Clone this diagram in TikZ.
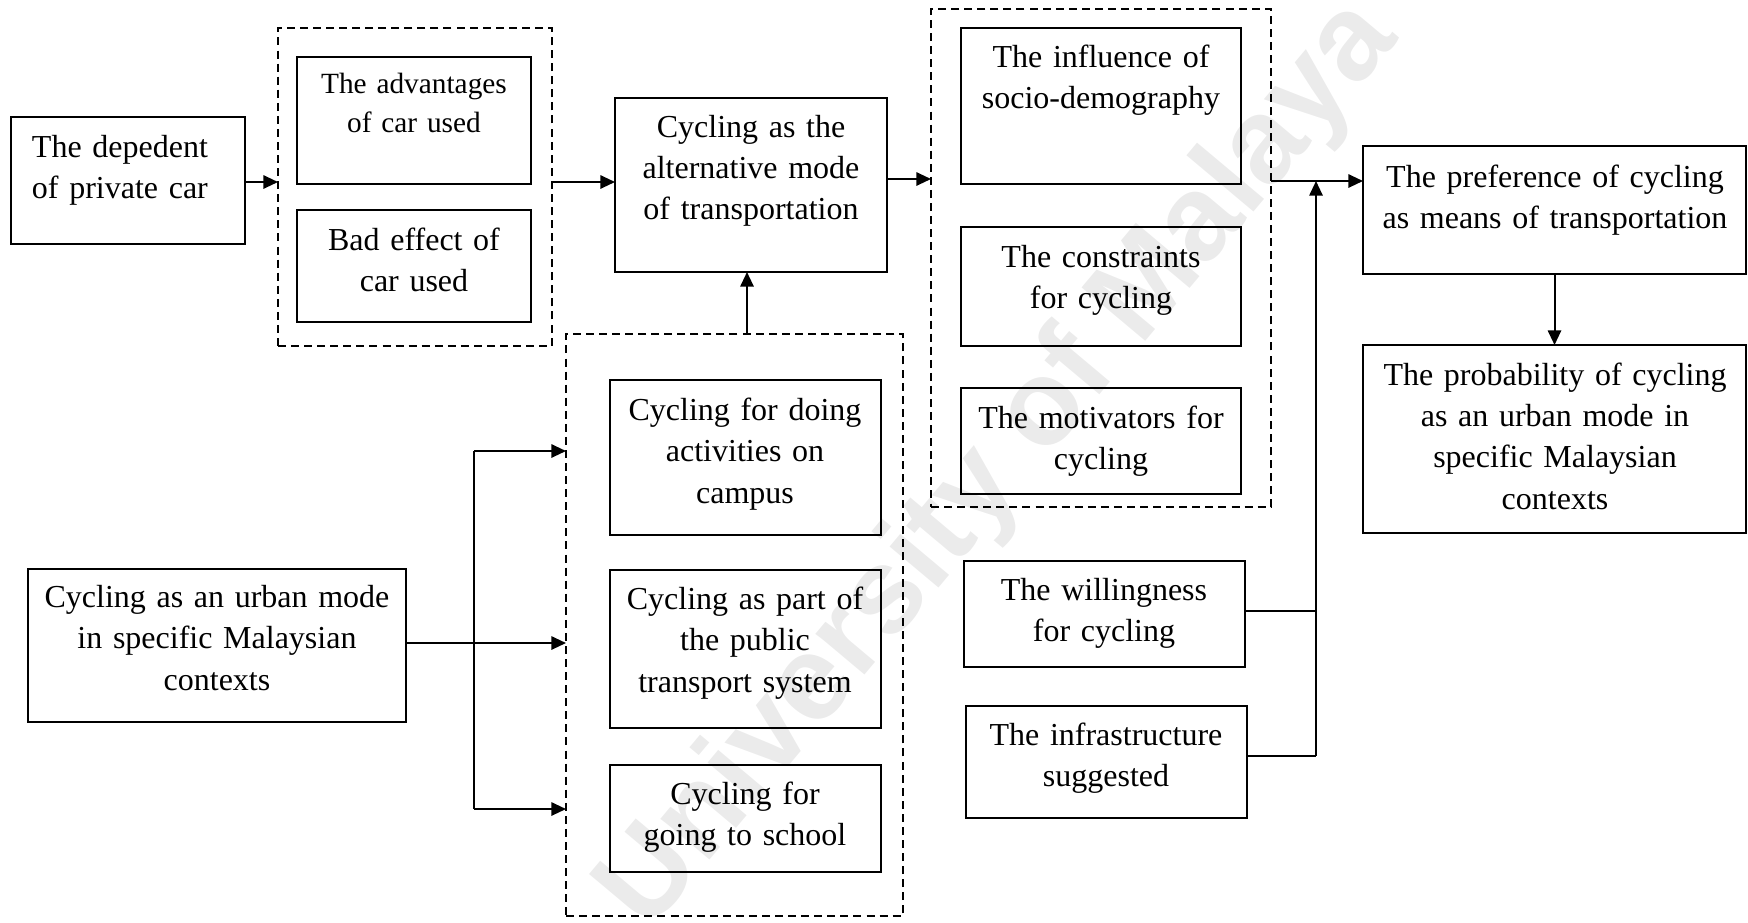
\documentclass[tikz,border=0pt]{standalone}
\usepackage{fontspec}
\setmainfont{Liberation Serif}
\newfontfamily\wmfont{Liberation Sans}
\usetikzlibrary{fit,arrows.meta}
\begin{document}
\begin{tikzpicture}[x=0.375pt,y=-0.375pt,
  box/.style={draw=black,line width=0.95pt,inner sep=0pt,outer sep=0pt},
  grp/.style={draw=black,line width=0.75pt,dash pattern=on 3pt off 1.9pt,inner sep=0pt,outer sep=0pt},
  txt/.style={inner sep=0pt,outer sep=0pt,text width=140pt,align=center,anchor=base,font=\fontsize{12}{15.56}\selectfont},
  arr/.style={line width=0.75pt,-{Triangle[length=5.5pt,width=5pt]}},
  ln/.style={line width=0.75pt},
  wm/.style={inner sep=0pt,text=black!8,font=\wmfont\bfseries\fontsize{45.3}{50}\selectfont}]
\useasboundingbox (0,0) rectangle (1748,922);
% watermark
\node[wm,rotate=50] (wmark) at (1000,466) {University of Malaya};
% groups
\node[grp,fit={(278,28) (552,346)}] (g1) {};
\node[grp,fit={(931,9) (1271,507)}] (g2) {};
\node[grp,fit={(566,334) (903,916)}] (g3) {};
% boxes
\node[box,fit={(11,117) (245,244)}] (dep) {};
\node[txt,anchor=base west,align=left] (depT) at (32,157) {The depedent\\of private car};
\node[box,fit={(297,57) (531,184)}] (adv) {};
\node[txt,font=\fontsize{11}{14.9}\selectfont] (advT) at (414,93) {The advantages\\of car used};
\node[box,fit={(297,210) (531,322)}] (bad) {};
\node[txt] (badT) at (414,250) {Bad effect of\\car used};
\node[box,fit={(615,98) (887,272)}] (alt) {};
\node[txt] (altT) at (751,137) {Cycling as the\\alternative mode\\of transportation};
\node[box,fit={(961,28) (1241,184)}] (infl) {};
\node[txt] (inflT) at (1101,67) {The influence of\\socio-demography};
\node[box,fit={(961,227) (1241,346)}] (cons) {};
\node[txt] (consT) at (1101,267) {The constraints\\for cycling};
\node[box,fit={(961,388) (1241,494)}] (moti) {};
\node[txt] (motiT) at (1101,428) {The motivators for\\cycling};
\node[box,fit={(610,380) (881,535)}] (camp) {};
\node[txt] (campT) at (745,420) {Cycling for doing\\activities on\\campus};
\node[box,fit={(610,570) (881,728)}] (pub) {};
\node[txt] (pubT) at (745,609) {Cycling as part of\\the public\\transport system};
\node[box,fit={(610,765) (881,872)}] (sch) {};
\node[txt] (schT) at (745,804) {Cycling for\\going to school};
\node[box,fit={(28,569) (406,722)}] (urb) {};
\node[txt] (urbT) at (217,607) {Cycling as an urban mode\\in specific Malaysian\\contexts};
\node[box,fit={(964,561) (1245,667)}] (will) {};
\node[txt] (willT) at (1104,600) {The willingness\\for cycling};
\node[box,fit={(966,706) (1247,818)}] (infr) {};
\node[txt] (infrT) at (1106,745) {The infrastructure\\suggested};
\node[box,fit={(1363,146) (1746,274)}] (pref) {};
\node[txt] (prefT) at (1555,187) {The preference of cycling\\as means of transportation};
\node[box,fit={(1363,345) (1746,533)}] (prob) {};
\node[txt] (probT) at (1555,385) {The probability of cycling\\as an urban mode in\\specific Malaysian\\contexts};
% junction coordinates
\coordinate (c182) at (0,182);
\coordinate (c179) at (0,179);
\coordinate (c747) at (747,0);
\coordinate (j1) at (474,451);
\coordinate (j2) at (474,643);
\coordinate (j3) at (474,809);
\coordinate (k) at (1316,181);
\coordinate (kw) at (1316,611);
\coordinate (ki) at (1316,756);
% connectors
\draw[arr] (dep.east |- c182) -- (g1.west |- c182);
\draw[arr] (g1.east |- c182) -- (alt.west |- c182);
\draw[arr] (alt.east |- c179) -- (g2.west |- c179);
\draw[arr] (g3.north -| c747) -- (alt.south -| c747);
\draw[arr] (urb.east |- j2) -- (g3.west |- j2);
\draw[ln] (j1) -- (j3);
\draw[arr] (j1) -- (g3.west |- j1);
\draw[arr] (j3) -- (g3.west |- j3);
\draw[ln] (will.east |- kw) -- (kw);
\draw[ln] (infr.east |- ki) -- (ki);
\draw[arr] (ki) -- (k);
\draw[arr] (g2.east |- k) -- (pref.west |- k);
\draw[arr] (pref.south) -- (prob.north);
\end{tikzpicture}
\end{document}
